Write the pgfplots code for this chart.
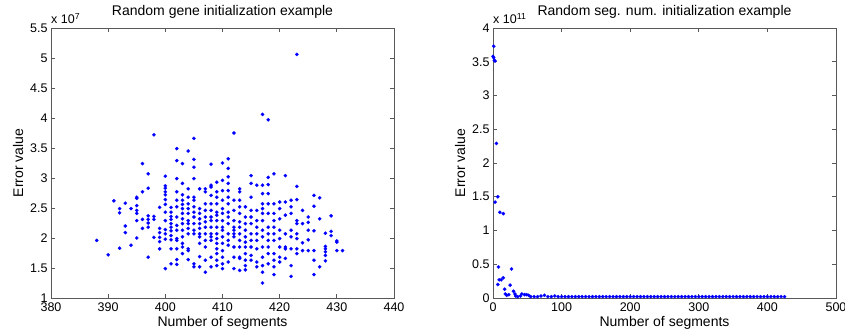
\documentclass[border=0pt]{standalone}
\usepackage{fontspec}
\setmainfont{Liberation Sans}
\usepackage{pgfplots}
\usepackage{pgfplotstable}
\pgfplotsset{compat=1.18}
% Left: Error value in units of 10^7
\pgfplotstableread{
x y
388 1.96
390 1.72
391 2.62
392 2.49
392 2.42
392 1.83
393 2.58
393 2.20
393 2.09
394 2.49
394 1.88
395 2.68
395 2.66
395 2.54
395 2.46
395 2.41
395 2.29
395 2.00
396 3.24
396 2.77
396 2.31
396 2.16
397 3.07
397 2.83
397 2.37
397 2.31
397 2.25
397 2.18
397 1.68
398 3.72
398 2.36
398 2.31
398 2.01
399 2.51
399 2.16
399 2.09
399 2.01
399 1.94
399 1.82
400 3.03
400 2.87
400 2.83
400 2.77
400 2.72
400 2.64
400 2.56
400 2.43
400 2.29
400 2.14
400 2.07
400 1.98
400 1.49
401 2.51
401 2.43
401 2.36
401 2.31
401 2.24
401 2.18
401 2.12
401 2.04
401 1.97
401 1.82
401 1.57
402 3.49
402 3.29
402 2.99
402 2.77
402 2.63
402 2.52
402 2.35
402 2.21
402 2.13
402 1.99
402 1.96
402 1.82
402 1.64
402 1.56
403 3.24
403 2.91
403 2.72
403 2.63
403 2.56
403 2.49
403 2.41
403 2.32
403 2.24
403 2.13
403 2.02
403 1.91
403 1.85
403 1.74
404 3.45
404 2.82
404 2.68
404 2.57
404 2.49
404 2.41
404 2.29
404 2.24
404 2.16
404 2.07
404 1.82
404 1.79
404 1.64
405 3.66
405 3.31
405 3.18
405 2.99
405 2.68
405 2.63
405 2.52
405 2.43
405 2.35
405 2.24
405 2.13
405 2.07
405 1.57
405 1.52
406 2.82
406 2.49
406 2.41
406 2.32
406 2.24
406 2.16
406 2.07
406 2.02
406 1.91
406 1.69
406 1.52
407 2.82
407 2.77
407 2.57
407 2.46
407 2.35
407 2.27
407 2.18
407 2.07
407 1.96
407 1.85
407 1.63
407 1.43
408 3.23
408 2.88
408 2.85
408 2.71
408 2.57
408 2.46
408 2.35
408 2.29
408 2.18
408 2.07
408 2.02
408 1.96
408 1.68
408 1.52
409 2.93
409 2.77
409 2.68
409 2.57
409 2.43
409 2.38
409 2.29
409 2.18
409 2.07
409 1.99
409 1.91
409 1.82
409 1.74
409 1.63
409 1.54
410 3.25
410 2.96
410 2.79
410 2.63
410 2.49
410 2.41
410 2.29
410 2.18
410 2.13
410 2.02
410 1.91
410 1.79
410 1.68
410 1.57
410 1.49
411 3.32
411 3.16
411 3.02
411 2.91
411 2.79
411 2.68
411 2.57
411 2.43
411 2.35
411 2.24
411 2.07
411 1.96
411 1.88
411 1.60
412 3.75
412 2.63
412 2.46
412 2.29
412 2.18
412 2.13
412 2.07
412 2.02
412 1.85
412 1.68
412 1.49
413 2.82
413 2.77
413 2.63
413 2.52
413 2.41
413 2.27
413 2.18
413 2.07
413 1.96
413 1.85
413 1.68
413 1.66
413 1.46
414 2.52
414 2.35
414 2.24
414 2.13
414 2.02
414 1.93
414 1.85
414 1.74
414 1.63
414 1.54
414 1.47
415 3.04
415 2.91
415 2.68
415 2.46
415 2.35
415 2.24
415 2.07
415 1.96
415 1.85
415 1.71
415 1.63
416 2.88
416 2.46
416 2.29
416 2.18
416 2.07
416 1.96
416 1.82
416 1.60
416 1.52
417 4.06
417 2.88
417 2.74
417 2.57
417 2.49
417 2.41
417 2.29
417 2.13
417 2.02
417 1.85
417 1.68
417 1.54
417 1.43
417 1.25
418 3.97
418 3.01
418 2.89
418 2.74
418 2.57
418 2.41
418 2.18
418 2.07
418 1.96
418 1.85
418 1.74
418 1.57
419 3.07
419 2.57
419 2.41
419 2.29
419 2.18
419 2.07
419 1.96
419 1.74
419 1.63
419 1.52
419 1.39
420 2.60
420 2.49
420 2.32
420 2.13
420 1.99
420 1.85
420 1.68
420 1.60
421 3.04
421 2.60
421 2.38
421 2.07
421 1.85
421 1.82
421 1.66
422 2.63
422 2.52
422 2.41
422 2.13
422 2.02
422 1.82
422 1.54
422 1.36
423 5.06
423 2.86
423 2.64
423 2.29
423 2.24
423 2.07
423 1.99
423 1.82
423 1.74
424 2.46
424 2.24
424 1.92
424 1.79
425 2.35
425 2.26
425 2.13
425 1.97
425 1.79
426 2.71
426 2.53
426 2.12
426 1.79
426 1.63
426 1.39
427 2.67
427 2.32
427 1.52
428 2.08
428 1.86
428 1.82
428 1.77
428 1.71
428 1.62
429 2.37
429 2.11
429 2.04
430 1.95
430 1.93
430 1.79
431 1.79
}\geneData
% Right: Error value in units of 10^11
\pgfplotstableread{
x y
1 3.73
0 3.58
1 3.56
2 3.52
3 3.51
5 2.29
7 1.50
3 1.42
10 1.27
15 1.25
8 0.46
27 0.43
9 0.27
12 0.27
15 0.30
7 0.20
25 0.19
17 0.13
30 0.10
18 0.06
20 0.04
23 0.05
32 0.06
33 0.03
36 0.02
40 0.03
42 0.06
46 0.05
49 0.05
52 0.04
55 0.02
60 0.02
65 0.02
70 0.03
75 0.04
80 0.02
85 0.02
90 0.03
95 0.02
100 0.02
105 0.02
110 0.02
115 0.02
120 0.02
125 0.02
130 0.02
135 0.02
140 0.02
145 0.02
150 0.02
155 0.02
160 0.02
165 0.02
170 0.02
175 0.02
180 0.02
185 0.02
190 0.02
195 0.02
200 0.02
205 0.02
210 0.02
215 0.02
220 0.02
225 0.02
230 0.02
235 0.02
240 0.02
245 0.02
250 0.02
255 0.02
260 0.02
265 0.02
270 0.02
275 0.02
280 0.02
285 0.02
290 0.02
295 0.02
300 0.02
305 0.02
310 0.02
315 0.02
320 0.02
325 0.02
330 0.02
335 0.02
340 0.02
345 0.02
350 0.02
355 0.02
360 0.02
365 0.02
370 0.02
375 0.02
380 0.02
385 0.02
390 0.02
395 0.02
400 0.02
405 0.02
410 0.02
415 0.02
420 0.02
425 0.02
}\segData
\pgfplotsset{
  matstyle/.style={
    scale only axis,
    width=343pt, height=270pt,
    clip=false,
    axis line style={black!65, line width=0.7pt},
    tick style={black!65, line width=0.7pt},
    tick align=inside,
    major tick length=4pt,
    /pgf/number format/assume math mode=true,
    tick label style={font=\fontsize{12.5}{14}\selectfont},
    xticklabel style={yshift=-1pt},
    label style={font=\fontsize{14}{16}\selectfont},
    title style={font=\fontsize{14}{16}\selectfont, at={(axis description cs:0.5,1)}, anchor=south, yshift=0pt},
    xlabel style={at={(axis description cs:0.5,-0.093)}, anchor=center},
    ylabel style={at={(axis description cs:-0.096,0.5)}, anchor=center, rotate=0},
    xlabel={Number of segments},
    ylabel={Error value},
  },
  matmark/.style={only marks, mark=*, color=blue,
    mark size=1.7pt,
    mark options={solid, draw=blue, fill=blue, line width=0.2pt}},
}
\begin{document}
\begin{tikzpicture}
\useasboundingbox (-51pt,-37pt) rectangle (794pt,298pt);
\begin{axis}[matstyle,
  at={(0pt,0pt)}, anchor=south west,
  title={Random gene initialization example},
  xmin=380, xmax=440, ymin=1, ymax=5.5,
  xtick={380,390,...,440},
  ytick={1,1.5,...,5.5},
  yticklabels={1,1.5,2,2.5,3,3.5,4,4.5,5,5.5},
]
\addplot[matmark] table[x=x,y=y] {\geneData};
\node[anchor=south west, inner sep=0pt, font=\fontsize{12.5}{14}\selectfont] at (rel axis cs:0,1) [yshift=4pt] {x 10\textsuperscript{7}};
\end{axis}
\begin{axis}[matstyle,
  at={(442pt,0pt)}, anchor=south west,
  title={Random seg. num. initialization example},
  xmin=0, xmax=500, ymin=0, ymax=4,
  xtick={0,100,...,500},
  ytick={0,0.5,...,4},
  yticklabels={0,0.5,1,1.5,2,2.5,3,3.5,4},
]
\addplot[matmark] table[x=x,y=y] {\segData};
\node[anchor=south west, inner sep=0pt, font=\fontsize{12.5}{14}\selectfont] at (rel axis cs:0,1) [yshift=4pt] {x 10\textsuperscript{11}};
\end{axis}
\end{tikzpicture}
\end{document}
